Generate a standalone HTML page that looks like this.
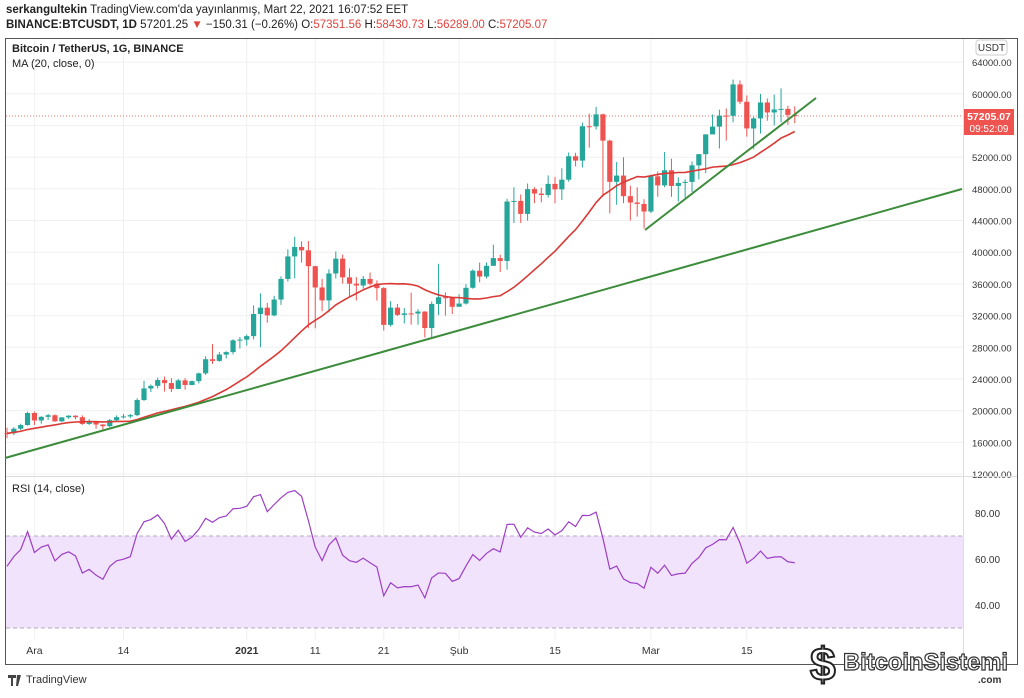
<!DOCTYPE html>
<html><head><meta charset="utf-8"><style>
body{margin:0;width:1024px;height:693px;background:#fff;overflow:hidden;font-family:"Liberation Sans",sans-serif}
svg text{font-family:"Liberation Sans",sans-serif}
</style></head><body>
<svg id="chart" width="1024" height="693" viewBox="0 0 1024 693" xmlns="http://www.w3.org/2000/svg">
<text x="6" y="13" font-size="11.5" fill="#222"><tspan font-weight="bold">serkangultekin</tspan> TradingView.com'da yayınlanmış, Mart 22, 2021 16:07:52 EET</text>
<text x="6" y="28" font-size="11.5" fill="#222"><tspan font-weight="bold">BINANCE:BTCUSDT, 1D</tspan> 57201.25 <tspan fill="#e0443e">▼</tspan> −150.31 (−0.26%) O:<tspan fill="#e0443e">57351.56</tspan> H:<tspan fill="#e0443e">58430.73</tspan> L:<tspan fill="#e0443e">56289.00</tspan> C:<tspan fill="#e0443e">57205.07</tspan></text>
<rect x="5.5" y="38.5" width="1012" height="626" fill="none" stroke="#555" stroke-width="1"/>
<g id="grid"></g>
<rect x="6" y="536" width="957" height="92" fill="#f1e3fb"/>
<line x1="6" y1="536" x2="963" y2="536" stroke="#b9a6c6" stroke-dasharray="4,3"/>
<line x1="6" y1="628" x2="963" y2="628" stroke="#b9a6c6" stroke-dasharray="4,3"/>
<line x1="6" y1="476.5" x2="1017" y2="476.5" stroke="#ddd"/>
<line x1="963.5" y1="39" x2="963.5" y2="664" stroke="#ddd"/>
<line x1="6" y1="116" x2="963" y2="116" stroke="#e0443e" stroke-dasharray="1,2" stroke-width="0.8"/>
<g id="marks"></g>
<line x1="5" y1="458" x2="962" y2="189" stroke="#3b8c3b" stroke-width="2"/>
<line x1="645" y1="230" x2="816" y2="98" stroke="#3b8c3b" stroke-width="2"/>
<text x="12" y="52" font-size="11" font-weight="bold" fill="#222">Bitcoin / TetherUS, 1G, BINANCE</text>
<text x="12" y="67" font-size="11" fill="#222">MA (20, close, 0)</text>
<text x="12" y="492" font-size="11" fill="#222">RSI (14, close)</text>
<rect x="976" y="40" width="31" height="15" rx="3" fill="#fff" stroke="#ccc"/>
<text x="991.5" y="51" font-size="10" fill="#333" text-anchor="middle">USDT</text>
<rect x="964" y="109" width="50" height="26" fill="#ef5350"/>
<text x="989" y="120" font-size="10.5" fill="#fff" font-weight="bold" text-anchor="middle">57205.07</text>
<text x="989" y="132" font-size="10" fill="#fff" text-anchor="middle">09:52:09</text>
<g id="xlabels"></g>
<text x="26" y="683" font-size="11" fill="#333">TradingView</text>
<path d="M8 675h8v3h-3v8h-2v-8h-3z M17 675h4l-3 11h-2z" fill="#444"/>
<g>
<text x="810" y="680" font-size="46" font-weight="bold" fill="#fff" stroke="#222" stroke-width="2" font-family="Liberation Serif">$</text>
<text x="843" y="670" font-size="24" font-weight="bold" fill="#fff" stroke="#333" stroke-width="1.2" font-family="Liberation Serif" textLength="165" lengthAdjust="spacingAndGlyphs">BitcoinSistemi</text>
<text x="978" y="683" font-size="10" font-weight="bold" fill="#333">.com</text>
</g>
</svg>
<script>
const prevCloses=[15480,15330,15300,15700,16280,16320,16070,15960,16730,17660,17800,17820,18680,18710,18420,18370,19160,18720,17150];
const firstOpen=17150;
const closes=[17140,17720,18180,19700,18760,19220,19420,18650,19150,19360,19170,18320,18550,18250,18040,18800,19170,19270,19430,21340,22800,23130,23860,23480,22740,23820,23240,23730,24710,26490,26280,27080,27390,28880,28970,29410,32200,33000,32030,34030,36630,39470,40670,40240,38240,35550,33920,37320,39190,36830,36030,35800,36630,36020,35470,30830,33010,32090,32280,32260,32510,30430,33470,34320,34270,33110,33520,35510,37670,36930,38290,39260,38900,46400,46480,44840,47970,47410,47230,48630,47940,49160,52120,51570,55910,55890,57410,54090,48890,49680,47080,46280,46100,45140,49590,48440,50350,48370,48750,48880,50970,52380,54880,55860,57250,57230,61190,59000,55630,56900,58910,57650,58030,58100,57350,57205];
const highs=[17850,17900,18350,19860,19890,19300,19580,19520,19170,19420,19420,19400,18920,18650,18290,18950,19400,19570,19570,21560,23770,23300,24170,24300,24100,24000,24100,23790,24790,26870,28400,27400,27500,29020,29300,29600,33300,34800,33600,34500,36950,40370,41950,41380,41420,38300,36630,37850,40100,39700,37950,36850,37000,37450,36450,35600,33830,33460,32950,34880,32800,32550,33780,38540,34930,34350,34700,35980,37850,38700,38700,40950,39700,46750,48200,47300,48680,48200,48150,49700,49500,50600,52600,52550,56370,57500,58350,57500,54200,51400,52000,48400,48200,46700,49790,50200,52650,51800,49450,49200,51450,52400,54900,57400,58000,58150,61800,61700,59800,57100,60000,59400,59900,60700,58500,58430];
const lows=[16520,16900,17550,18100,18200,18350,18830,18600,18550,18950,18900,18210,18200,17700,17600,17900,18700,19000,19050,19300,21230,22350,22800,22400,22350,22700,22650,23200,23430,24500,25900,26180,26600,27100,27850,28200,29000,28000,31100,31900,33350,36300,36700,38700,30400,30400,32550,32400,36700,36050,34400,33900,35400,35800,33900,30100,30600,31950,31000,30850,30850,29250,29250,32050,32000,32200,33200,33400,35400,36200,36700,38300,37500,37800,43700,43700,44000,46200,46300,46900,46200,46600,48900,50850,50700,53200,55500,47000,44900,46000,46200,44000,44500,43000,44950,47000,48200,47000,46400,46900,47600,49200,50000,55300,53100,54100,56400,58700,54600,53000,55000,56600,56000,56400,56100,56290];
const tickPrices=[64000,60000,56000,52000,48000,44000,40000,36000,32000,28000,24000,20000,16000,12000];
const rsiTicks=[80,60,40];
const xLabels=["Ara","14","2021","11","21","Şub","15","Mar","15"];
const xLabelDays=[4,17,35,45,55,66,80,94,108];

const NS="http://www.w3.org/2000/svg";
const X=i=>7+i*6.85;
const Y=p=>474-(p-12000)*0.00792;
const RY=v=>559-(v-60)*2.3;
function mk(tag,attrs,parent){const e=document.createElementNS(NS,tag);for(const k in attrs)e.setAttribute(k,attrs[k]);document.getElementById(parent).appendChild(e);return e;}

tickPrices.forEach(p=>{
 const l=mk('line',{x1:6,x2:963,y1:Y(p),y2:Y(p),stroke:'#f0f0f0'},'grid');
 
 
 if(p===56000)return;
 const t=mk('text',{x:972,y:Y(p)+4,'font-size':9.5,fill:'#333'},'grid');t.textContent=p.toFixed(2);
 
 
});
rsiTicks.forEach(v=>{
 const t=mk('text',{x:975,y:RY(v)+4,'font-size':10,fill:'#333'},'grid');t.textContent=v.toFixed(2);
 
 
});
xLabels.forEach((s,k)=>{
 const x=X(xLabelDays[k]);
 const l=mk('line',{x1:x,x2:x,y1:39,y2:640,stroke:'#f0f0f0'},'grid');
 
 
 const t=mk('text',{x:x,y:654,'font-size':10.5,fill:'#333','text-anchor':'middle','font-weight':s==='2021'?'bold':'normal'},'xlabels');t.textContent=s;
 
 
});
closes.forEach((c,i)=>{
 const o=i===0?firstOpen:closes[i-1];
 const col=c>=o?'#26a69a':'#ef5350';
 const x=X(i);
 const w=mk('line',{x1:x,x2:x,y1:Y(highs[i]),y2:Y(lows[i]),stroke:col,'stroke-width':1},'marks');
 
 
 const top=Y(Math.max(o,c)),bot=Y(Math.min(o,c));
 const b=mk('rect',{x:x-2.6,y:top,width:5.2,height:Math.max(1,bot-top),fill:col},'marks');
 
 
});
const all=prevCloses.concat(closes);
let pts=[];
closes.forEach((c,i)=>{const j=i+prevCloses.length;let s=0;for(let k=j-19;k<=j;k++)s+=all[k];pts.push(X(i)+','+Y(s/20));});
const ma=mk('polyline',{points:pts.join(' '),fill:'none',stroke:'#d93a35','stroke-width':1.6},'marks');


let ag=0,al=0;const n=14;
for(let k=1;k<=n;k++){const d=all[k]-all[k-1];if(d>0)ag+=d;else al-=d;}
ag/=n;al/=n;
for(let k=n+1;k<prevCloses.length;k++){const d=all[k]-all[k-1];ag=(ag*13+Math.max(d,0))/14;al=(al*13+Math.max(-d,0))/14;}
let rp=[];
closes.forEach((c,i)=>{const k=i+prevCloses.length;const d=all[k]-all[k-1];ag=(ag*13+Math.max(d,0))/14;al=(al*13+Math.max(-d,0))/14;const r=100-100/(1+ag/al);rp.push(X(i)+','+RY(r));});
const rl=mk('polyline',{points:rp.join(' '),fill:'none',stroke:'#9c3fc4','stroke-width':1.2},'marks');


</script>
</body></html>
